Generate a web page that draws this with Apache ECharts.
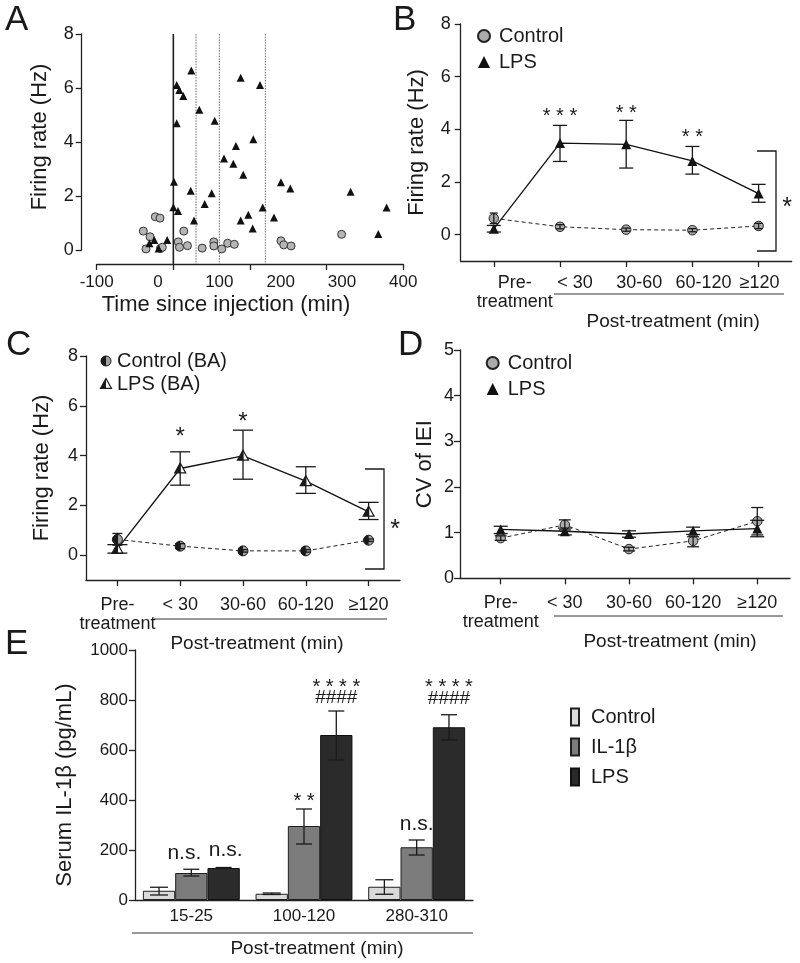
<!DOCTYPE html>
<html>
<head>
<meta charset="utf-8">
<title>Firing rate and serum IL-1β</title>
<script src="https://cdn.jsdelivr.net/npm/echarts@6.0.0/dist/echarts.min.js"></script>
<style>
html,body{margin:0;padding:0;background:#ffffff;}
#chart{width:800px;height:963px;}
</style>
</head>
<body>
<div id="chart"></div>
<script>
// ================= DATA =================
// Panel A : individual neurons (time since injection, firing rate)
const aControlTime = [-24, -13, -19.6, -4.4, 3.2, 4, 7, 42, 33, 35, 48, 72, 91, 91, 104, 113.6, 124.4, 200.5, 205, 217, 299.4];
const aControlRate = [0.70, 0.49, 0.04, 1.23, 1.18, 0.06, 0.10, 0.70, 0.30, 0.10, 0.16, 0.07, 0.30, 0.15, 0.04, 0.25, 0.21, 0.34, 0.19, 0.15, 0.58];
const aLpsTime = [54.3, 30.4, 34.7, 41.2, 67.3, 92.4, 30.4, 134.8, 166.3, 155.4, 127.1, 107.6, 122.8, 139, 26, 53.3, 87.5, 76.1, 25, 32.6, 58.7, 147.2, 134.8, 154.4, 170.7, 189.1, 200.5, 215.7, 314.1, 372.8, 359.2, -14, -6, 1, 15];
const aLpsRate = [6.65, 6.11, 5.93, 5.70, 5.19, 4.79, 4.69, 6.38, 6.11, 4.10, 3.85, 3.39, 3.19, 2.79, 2.53, 2.19, 2.10, 1.70, 1.58, 1.44, 1.09, 1.31, 1.09, 0.80, 1.57, 1.20, 2.51, 2.28, 2.16, 1.57, 0.59, 0.25, 0.37, 0.06, 0.37];
const aDividers = [25, 62, 100, 175];
const aXLabels = [-100, 0, 100, 200, 300, 400];
const aXTicks = [-100, 25, 150, 275, 400];
const aYLabels = [0, 2, 4, 6, 8];

// Shared categories for panels B, C, D
const timeCats = ['Pre-\ntreatment', '< 30', '30-60', '60-120', '≥120'];
const rateTicks = [0, 2, 4, 6, 8];

// Panel B
const bControlMean = [0.62, 0.30, 0.19, 0.17, 0.33];
const bControlLow  = [0.42, 0.22, 0.13, 0.11, 0.23];
const bControlHigh = [0.82, 0.38, 0.25, 0.23, 0.43];
const bLpsMean = [0.22, 3.48, 3.43, 2.80, 1.56];
const bLpsLow  = [0.10, 2.78, 2.53, 2.30, 1.23];
const bLpsHigh = [0.35, 4.15, 4.34, 3.35, 1.91];
const bSigCat = [1, 2, 3];
const bSigY = [4.65, 4.76, 3.85];
const bSigText = ['***', '**', '**'];

// Panel C
const cControlMean = [0.63, 0.36, 0.17, 0.17, 0.60];
const cControlLow  = [0.40, 0.26, 0.12, 0.12, 0.55];
const cControlHigh = [0.87, 0.46, 0.22, 0.22, 0.65];
const cLpsMean = [0.25, 3.48, 3.99, 2.97, 1.74];
const cLpsLow  = [0.08, 2.81, 3.05, 2.48, 1.43];
const cLpsHigh = [0.42, 4.15, 5.02, 3.55, 2.12];
const cSigCat = [1, 2];
const cSigY = [4.94, 5.54];
const cSigText = ['*', '*'];

// Panel D
const dControlMean = [0.88, 1.17, 0.64, 0.82, 1.25];
const dControlLow  = [0.83, 1.06, 0.60, 0.69, 0.95];
const dControlHigh = [0.93, 1.28, 0.68, 0.91, 1.55];
const dLpsMean = [1.07, 1.03, 0.97, 1.04, 1.09];
const dLpsLow  = [0.98, 0.95, 0.90, 0.96, 0.91];
const dLpsHigh = [1.14, 1.10, 1.04, 1.12, 1.27];
const dIndex = [0, 1, 2, 3, 4];

// Panel E
const eCats = ['15-25', '100-120', '280-310'];
const eControl     = [37, 25, 53];
const eControlLow  = [20, 22, 23];
const eControlHigh = [51, 28, 81];
const eIl     = [108, 296, 211];
const eIlLow  = [96, 224, 180];
const eIlHigh = [123, 364, 240];
const eLps     = [128, 660, 691];
const eLpsLow  = [126, 560, 640];
const eLpsHigh = [130, 756, 741];
const eSigCat = [0, 0, 1, 1, 1, 2, 2, 2];
const eSigBar = [1, 2, 1, 2, 2, 1, 2, 2];
const eSigY = [180, 192, 412, 868, 808, 296, 868, 804];
const eSigText = ['n.s.', 'n.s.', '**', '****', '####', 'n.s.', '****', '####'];

// ================= STYLE =================
const FONT = '"Liberation Sans", Arial, Helvetica, sans-serif';
const INK = '#1a1a1a';
const AXIS = '#222222';
const GRAY_MARK = '#ababab';
const B_LABEL_NUDGE = [21, 15, 13, 11, 1];
const E_SIG_NUDGE = [-7, 2, 0, 0, 0, 0, 0, 0];
const E_BAR_W = 32.3;
const A_LINE_BOTTOM = -0.52;

const chart = echarts.init(document.getElementById('chart'), null, {renderer: 'canvas'});

function axisLine() { return {show: true, onZero: false, lineStyle: {color: AXIS, width: 1.3}}; }
function tick(extra) { return Object.assign({show: true, length: 6, lineStyle: {color: AXIS, width: 1.3}}, extra || {}); }

function errorBars(cap, dx) {
  return function (params, api) {
    const x = api.value(0);
    const lo = api.coord([x, api.value(1)]);
    const hi = api.coord([x, api.value(2)]);
    const cx = lo[0] + dx;
    const st = {stroke: INK, lineWidth: 1.3, fill: null};
    return {type: 'group', children: [
      {type: 'line', shape: {x1: cx, y1: lo[1], x2: cx, y2: hi[1]}, style: st},
      {type: 'line', shape: {x1: cx - cap / 2, y1: lo[1], x2: cx + cap / 2, y2: lo[1]}, style: st},
      {type: 'line', shape: {x1: cx - cap / 2, y1: hi[1], x2: cx + cap / 2, y2: hi[1]}, style: st}
    ]};
  };
}
function sigText(texts, sizeFn, dxFn) {
  return function (params, api) {
    const p = api.coord([api.value(0), api.value(1)]);
    const raw = texts[params.dataIndex];
    const isStar = raw.indexOf('*') >= 0;
    const shown = isStar ? raw.split('').join(' ') : raw;
    const fs = sizeFn(raw);
    let dy = 0;
    if (isStar) dy = 0.23 * fs;
    else if (raw === 'n.s.') dy = -2;
    return {type: 'text', x: p[0] + (dxFn ? dxFn(params.dataIndex) : 0), y: p[1] + dy,
      style: {text: shown, fill: INK, fontSize: fs, fontFamily: FONT,
        textAlign: 'center', textVerticalAlign: 'middle', align: 'center', verticalAlign: 'middle'}};
  };
}
function halfCircleShape(cx, cy, r) {
  return [
    {type: 'circle', shape: {cx: cx, cy: cy, r: r}, style: {fill: '#a3a3a3', stroke: INK, lineWidth: 1}},
    {type: 'sector', shape: {cx: cx, cy: cy, r0: 0, r: r, startAngle: Math.PI / 2, endAngle: Math.PI * 1.5, clockwise: true}, style: {fill: INK}}
  ];
}
function halfTriangleShape(cx, cy, s) {
  const top = [cx, cy - s], bl = [cx - s, cy + s * 0.8], br = [cx + s, cy + s * 0.8];
  return [
    {type: 'polygon', shape: {points: [top, br, bl]}, style: {fill: '#ffffff', stroke: INK, lineWidth: 1.2}},
    {type: 'polygon', shape: {points: [top, [cx, cy + s * 0.8], bl]}, style: {fill: INK}}
  ];
}
function pair(xs, ys) { return xs.map((x, i) => [x, ys[i]]); }
function idx(arr) { return arr.map((v, i) => [i, v]); }
function err(lo, hi) { return lo.map((l, i) => [i, l, hi[i]]); }

const postName = {fontSize: 19, color: INK, fontFamily: FONT};

const option = {
  animation: false,
  backgroundColor: '#ffffff',
  textStyle: {fontFamily: FONT, color: INK},
  grid: [
    {left: 96.7, top: 34, width: 306.6, height: 216, outerBoundsMode: 'none'},
    {left: 460.7, top: 24, width: 331, height: 237, outerBoundsMode: 'none'},
    {left: 86, top: 356, width: 314, height: 224, outerBoundsMode: 'none'},
    {left: 460, top: 350, width: 330, height: 228.3, outerBoundsMode: 'none'},
    {left: 135, top: 650, width: 338, height: 250, outerBoundsMode: 'none'}
  ],
  xAxis: [
    {type: 'value', gridIndex: 0, min: -100, max: 400, offset: 14,
      axisLine: axisLine(), axisTick: tick({customValues: aXTicks}), splitLine: {show: false},
      axisLabel: {customValues: aXLabels, fontSize: 17, margin: 10, color: INK},
      name: 'Time since injection (min)', nameLocation: 'middle', nameGap: 30,
      nameTextStyle: {fontSize: 22, color: INK, padding: [0, 48, 0, 0]}},
    {type: 'category', gridIndex: 1, boundaryGap: true,
      data: timeCats.map((c, i) => ({value: c, textStyle: {padding: [0, 0, 0, 2 * B_LABEL_NUDGE[i]]}})),
      axisLine: axisLine(), axisTick: tick({alignWithLabel: true}), splitLine: {show: false},
      axisLabel: {interval: 0, fontSize: 18, lineHeight: 19, margin: 12.5, color: INK},
      name: 'Post-treatment (min)', nameLocation: 'middle', nameGap: 39,
      nameTextStyle: Object.assign({padding: [0, 0, 0, 94]}, postName)},
    {type: 'category', gridIndex: 2, boundaryGap: true, data: timeCats,
      axisLine: axisLine(), axisTick: tick({alignWithLabel: true}), splitLine: {show: false},
      axisLabel: {interval: 0, fontSize: 18, lineHeight: 19, margin: 15.5, color: INK},
      name: 'Post-treatment (min)', nameLocation: 'middle', nameGap: 43,
      nameTextStyle: Object.assign({padding: [0, 0, 0, 28]}, postName)},
    {type: 'value', gridIndex: 3, min: -0.634, max: 4.51,
      axisLine: axisLine(), axisTick: tick({customValues: dIndex}), splitLine: {show: false},
      axisLabel: {customValues: dIndex, formatter: v => timeCats[Math.round(v)], fontSize: 18, lineHeight: 19, margin: 15, color: INK},
      name: 'Post-treatment (min)', nameLocation: 'middle', nameGap: 50,
      nameTextStyle: Object.assign({padding: [0, 0, 0, 90]}, postName)},
    {type: 'category', gridIndex: 4, boundaryGap: true, data: eCats,
      axisLine: axisLine(), axisTick: {show: false}, splitLine: {show: false},
      axisLabel: {interval: 0, fontSize: 17, margin: 8, color: INK},
      name: 'Post-treatment (min)', nameLocation: 'middle', nameGap: 39.5,
      nameTextStyle: Object.assign({padding: [0, 0, 0, 26]}, postName)}
  ],
  yAxis: [
    {type: 'value', gridIndex: 0, min: 0, max: 8, interval: 2, offset: 15,
      axisLine: axisLine(), axisTick: tick({customValues: aYLabels}), splitLine: {show: false},
      axisLabel: {customValues: aYLabels, fontSize: 18, margin: 8, color: INK},
      name: 'Firing rate (Hz)', nameLocation: 'middle', nameRotate: 90, nameGap: 31,
      nameTextStyle: {fontSize: 22, color: INK, padding: [0, 0, 0, 10]}},
    {type: 'value', gridIndex: 1, min: -1, max: 8,
      axisLine: axisLine(), axisTick: tick({customValues: rateTicks}), splitLine: {show: false},
      axisLabel: {customValues: rateTicks, fontSize: 18, margin: 10, color: INK},
      name: 'Firing rate (Hz)', nameLocation: 'middle', nameRotate: 90, nameGap: 33,
      nameTextStyle: {fontSize: 22, color: INK}},
    {type: 'value', gridIndex: 2, min: -1, max: 8,
      axisLine: axisLine(), axisTick: tick({customValues: rateTicks}), splitLine: {show: false},
      axisLabel: {customValues: rateTicks, fontSize: 18, margin: 8, color: INK},
      name: 'Firing rate (Hz)', nameLocation: 'middle', nameRotate: 90, nameGap: 33,
      nameTextStyle: {fontSize: 22, color: INK}},
    {type: 'value', gridIndex: 3, min: 0, max: 5, interval: 1,
      axisLine: axisLine(), axisTick: tick(), splitLine: {show: false},
      axisLabel: {fontSize: 18, margin: 6, color: INK},
      name: 'CV of IEI', nameLocation: 'middle', nameRotate: 90, nameGap: 24,
      nameTextStyle: {fontSize: 22, color: INK}},
    {type: 'value', gridIndex: 4, min: 0, max: 1000, interval: 200,
      axisLine: axisLine(), axisTick: tick(), splitLine: {show: false},
      axisLabel: {fontSize: 17, margin: 7, color: INK, formatter: v => String(v)},
      name: 'Serum IL-1β (pg/mL)', nameLocation: 'middle', nameRotate: 90, nameGap: 59,
      nameTextStyle: {fontSize: 22, color: INK, padding: [0, 20, 0, 0]}}
  ],
  legend: [
    {left: 477, top: 26, orient: 'vertical', padding: 0, itemWidth: 12, itemHeight: 12, itemGap: 6, selectedMode: false,
      formatter: n => n.split('|')[0], lineStyle: {opacity: 0},
      textStyle: {fontSize: 20, lineHeight: 20, color: INK, padding: [0, 0, 0, 4]},
      data: [{name: 'Control|B', icon: 'circle'}, {name: 'LPS|B', icon: 'triangle'}]},
    {left: 485.7, top: 353, orient: 'vertical', padding: 0, itemWidth: 12, itemHeight: 12, itemGap: 6, selectedMode: false,
      formatter: n => n.split('|')[0], lineStyle: {opacity: 0},
      textStyle: {fontSize: 20, lineHeight: 20, color: INK, padding: [0, 0, 0, 4]},
      data: [{name: 'Control|D', icon: 'circle'}, {name: 'LPS|D', icon: 'triangle'}]},
    {left: 570, top: 707, orient: 'vertical', padding: 0, itemWidth: 8, itemHeight: 17, itemGap: 10, selectedMode: false,
      formatter: n => n.split('|')[0],
      textStyle: {fontSize: 20, lineHeight: 20, color: INK, padding: [0, 0, 0, 7]},
      data: [{name: 'Control|E', icon: 'rect'}, {name: 'IL-1β|E', icon: 'rect'}, {name: 'LPS|E', icon: 'rect'}]}
  ],
  series: [
    // ---------- A ----------
    {type: 'custom', name: 'dividers', xAxisIndex: 0, yAxisIndex: 0, z: 1, silent: true,
      data: aDividers.map(x => [x, 8]), encode: {x: 0, y: 1},
      renderItem: function (params, api) {
        const x = api.value(0);
        const top = api.coord([x, api.value(1)]);
        const bot = api.coord([x, A_LINE_BOTTOM]);
        const solid = params.dataIndex === 0;
        return {type: 'line', shape: {x1: top[0], y1: top[1], x2: bot[0], y2: bot[1]},
          style: {stroke: solid ? '#1f1f1f' : '#6a6a6a', lineWidth: solid ? 1.6 : 1, lineDash: solid ? null : [1.5, 1.2]}};
      }},
    {type: 'scatter', name: 'Control|A', xAxisIndex: 0, yAxisIndex: 0, z: 3, clip: false,
      data: pair(aControlTime, aControlRate), symbol: 'circle', symbolSize: 8,
      itemStyle: {color: '#b5b5b5', borderColor: '#333', borderWidth: 1, opacity: 1}},
    {type: 'scatter', name: 'LPS|A', xAxisIndex: 0, yAxisIndex: 0, z: 4, clip: false,
      data: pair(aLpsTime, aLpsRate), symbol: 'triangle', symbolSize: 8,
      itemStyle: {color: '#111', opacity: 1}},
    // ---------- B ----------
    {type: 'line', name: 'Control|B', xAxisIndex: 1, yAxisIndex: 1, z: 3, data: bControlMean,
      symbol: 'circle', symbolSize: 9.5, showSymbol: true,
      itemStyle: {color: GRAY_MARK, borderColor: '#222', borderWidth: 1},
      lineStyle: {color: '#222', width: 1, type: [4, 3]}},
    {type: 'line', name: 'LPS|B', xAxisIndex: 1, yAxisIndex: 1, z: 4, data: bLpsMean,
      symbol: 'triangle', symbolSize: 10, showSymbol: true,
      itemStyle: {color: '#111'}, lineStyle: {color: '#111', width: 1.3}},
    {type: 'custom', name: 'errCB', xAxisIndex: 1, yAxisIndex: 1, z: 6, silent: true,
      data: err(bControlLow, bControlHigh), encode: {x: 0, y: [1, 2]}, renderItem: errorBars(8, 0)},
    {type: 'custom', name: 'errLB', xAxisIndex: 1, yAxisIndex: 1, z: 6, silent: true,
      data: err(bLpsLow, bLpsHigh), encode: {x: 0, y: [1, 2]}, renderItem: errorBars(14, 0)},
    {type: 'custom', name: 'sigB', xAxisIndex: 1, yAxisIndex: 1, z: 6, silent: true,
      data: pair(bSigCat, bSigY), encode: {x: 0, y: 1}, renderItem: sigText(bSigText, () => 20)},
    // ---------- C ----------
    {type: 'line', name: 'Control|C', xAxisIndex: 2, yAxisIndex: 2, z: 2, data: cControlMean,
      symbol: 'none', lineStyle: {color: '#222', width: 1, type: [4, 3]}},
    {type: 'line', name: 'LPS|C', xAxisIndex: 2, yAxisIndex: 2, z: 2, data: cLpsMean,
      symbol: 'none', lineStyle: {color: '#111', width: 1.3}},
    {type: 'custom', name: 'markCC', xAxisIndex: 2, yAxisIndex: 2, z: 4, silent: true,
      data: idx(cControlMean), encode: {x: 0, y: 1},
      renderItem: function (params, api) {
        const p = api.coord([api.value(0), api.value(1)]);
        return {type: 'group', children: halfCircleShape(p[0], p[1], 5)};
      }},
    {type: 'custom', name: 'markLC', xAxisIndex: 2, yAxisIndex: 2, z: 4, silent: true,
      data: idx(cLpsMean), encode: {x: 0, y: 1},
      renderItem: function (params, api) {
        const p = api.coord([api.value(0), api.value(1)]);
        return {type: 'group', children: halfTriangleShape(p[0], p[1], 5.5)};
      }},
    {type: 'custom', name: 'errCC', xAxisIndex: 2, yAxisIndex: 2, z: 6, silent: true,
      data: err(cControlLow, cControlHigh), encode: {x: 0, y: [1, 2]}, renderItem: errorBars(10, 0)},
    {type: 'custom', name: 'errLC', xAxisIndex: 2, yAxisIndex: 2, z: 6, silent: true,
      data: err(cLpsLow, cLpsHigh), encode: {x: 0, y: [1, 2]}, renderItem: errorBars(20, 0)},
    {type: 'custom', name: 'sigC', xAxisIndex: 2, yAxisIndex: 2, z: 6, silent: true,
      data: pair(cSigCat, cSigY), encode: {x: 0, y: 1}, renderItem: sigText(cSigText, () => 24)},
    // ---------- D ----------
    {type: 'line', name: 'Control|D', xAxisIndex: 3, yAxisIndex: 3, z: 3, data: pair(dIndex, dControlMean),
      symbol: 'circle', symbolSize: 9.5,
      itemStyle: {color: GRAY_MARK, borderColor: '#222', borderWidth: 1},
      lineStyle: {color: '#222', width: 1, type: [4, 3]}},
    {type: 'line', name: 'LPS|D', xAxisIndex: 3, yAxisIndex: 3, z: 4, data: pair(dIndex, dLpsMean),
      symbol: 'triangle', symbolSize: 10,
      itemStyle: {color: '#111'}, lineStyle: {color: '#111', width: 1.3}},
    {type: 'custom', name: 'errCD', xAxisIndex: 3, yAxisIndex: 3, z: 6, silent: true,
      data: err(dControlLow, dControlHigh), encode: {x: 0, y: [1, 2]}, renderItem: errorBars(12, 0)},
    {type: 'custom', name: 'errLD', xAxisIndex: 3, yAxisIndex: 3, z: 6, silent: true,
      data: err(dLpsLow, dLpsHigh), encode: {x: 0, y: [1, 2]}, renderItem: errorBars(14, 0)},
    // ---------- E ----------
    {type: 'bar', name: 'Control|E', xAxisIndex: 4, yAxisIndex: 4, data: eControl, barWidth: E_BAR_W, barGap: '0%',
      itemStyle: {color: '#dadada', borderColor: '#1f1f1f', borderWidth: 1}},
    {type: 'bar', name: 'IL-1β|E', xAxisIndex: 4, yAxisIndex: 4, data: eIl, barWidth: E_BAR_W, barGap: '0%',
      itemStyle: {color: '#7c7c7c', borderColor: '#1f1f1f', borderWidth: 1}},
    {type: 'bar', name: 'LPS|E', xAxisIndex: 4, yAxisIndex: 4, data: eLps, barWidth: E_BAR_W, barGap: '0%',
      itemStyle: {color: '#2b2b2b', borderColor: '#111', borderWidth: 1}},
    {type: 'custom', name: 'errE0', xAxisIndex: 4, yAxisIndex: 4, z: 6, silent: true,
      data: err(eControlLow, eControlHigh), encode: {x: 0, y: [1, 2]}, renderItem: errorBars(18, -E_BAR_W)},
    {type: 'custom', name: 'errE1', xAxisIndex: 4, yAxisIndex: 4, z: 6, silent: true,
      data: err(eIlLow, eIlHigh), encode: {x: 0, y: [1, 2]}, renderItem: errorBars(16, 0)},
    {type: 'custom', name: 'errE2', xAxisIndex: 4, yAxisIndex: 4, z: 6, silent: true,
      data: err(eLpsLow, eLpsHigh), encode: {x: 0, y: [1, 2]}, renderItem: errorBars(16, E_BAR_W)},
    {type: 'custom', name: 'sigE', xAxisIndex: 4, yAxisIndex: 4, z: 6, silent: true,
      data: pair(eSigCat, eSigY), encode: {x: 0, y: 1},
      renderItem: sigText(eSigText, t => (t === 'n.s.' ? 21 : (t.indexOf('#') >= 0 ? 19 : 20)),
        i => (eSigBar[i] - 1) * E_BAR_W + E_SIG_NUDGE[i])}
  ],
  graphic: {elements: []}
};

// ---------- decorations (panel letters, underlines, brackets, legend of C) ----------
function letter(t, x, capTop) {
  return {type: 'text', x: x, y: capTop + 12.5, silent: true,
    style: {text: t, fontSize: 35, fontFamily: FONT, fill: INK, textVerticalAlign: 'middle', verticalAlign: 'middle'}};
}
function hline(x1, x2, y) {
  return {type: 'line', silent: true, shape: {x1: x1, y1: y, x2: x2, y2: y}, style: {stroke: '#333', lineWidth: 1}};
}
function bracket(xa, xb, ya, yb) {
  return {type: 'polyline', silent: true, shape: {points: [[xa, ya], [xb, ya], [xb, yb], [xa, yb]]},
    style: {stroke: INK, lineWidth: 1.3, fill: null}};
}
function label(t, x, y, fs, align) {
  return {type: 'text', x: x, y: y, silent: true,
    style: {text: t, fontSize: fs, fontFamily: FONT, fill: INK, textAlign: align || 'left', align: align || 'left',
      textVerticalAlign: 'middle', verticalAlign: 'middle'}};
}
const els = option.graphic.elements;
els.push(letter('A', 5, 8), letter('B', 393, 8), letter('C', 6, 333), letter('D', 398, 333), letter('E', 5, 632));
els.push(hline(554, 784, 294), hline(154, 387, 619), hline(554, 783, 616), hline(132, 473, 933));
els.push(bracket(757, 776, 151, 251), label('*', 787, 208, 25, 'center'));
els.push(bracket(365, 384, 469, 569), label('*', 395, 530, 25, 'center'));
els.push({type: 'group', silent: true, children: halfCircleShape(106, 361, 5)});
els.push({type: 'group', silent: true, children: halfTriangleShape(106, 384, 5.5)});
els.push(label('Control (BA)', 117, 361, 20), label('LPS (BA)', 117, 384, 20));

chart.setOption(option);
</script>
</body>
</html>
